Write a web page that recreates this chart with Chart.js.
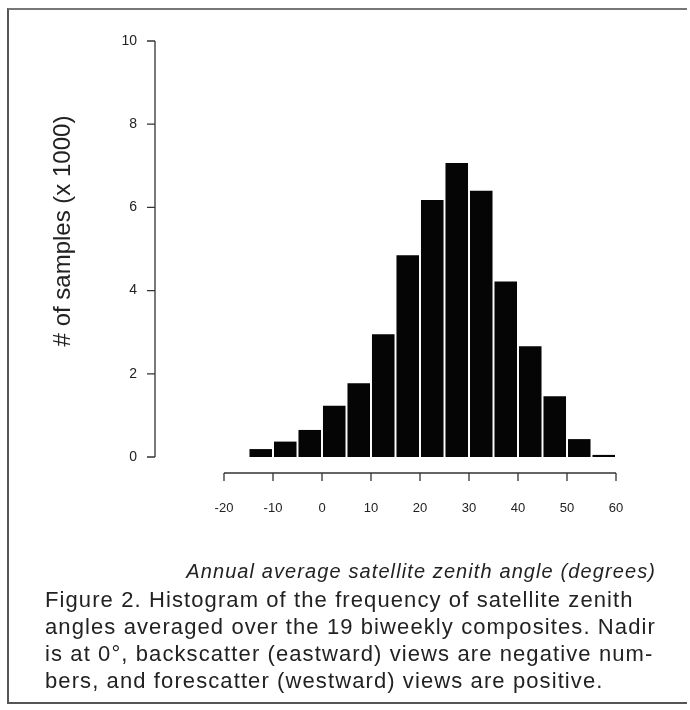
<!DOCTYPE html>
<html>
<head>
<meta charset="utf-8">
<script src="https://cdn.jsdelivr.net/npm/chart.js@4.4.1/dist/chart.umd.min.js"></script>
<style>
  body { margin: 0; background: #fff; }
  #page { position: relative; width: 690px; height: 710px; overflow: hidden; }
  #frame { position: absolute; left: 7px; top: 8px; width: 680px; height: 696px; box-sizing: border-box;
           border-left: 2px solid #555; border-top: 2px solid #777; border-bottom: 2px solid #555; }
  #chart { position: absolute; left: 0; top: 0; }
  #xtitle { position: absolute; right: 34px; top: 560px; font-family: "Liberation Sans", Arial, sans-serif;
            font-size: 20px; font-style: italic; letter-spacing: 1.1px; color: #222; white-space: pre; }
  #caption { position: absolute; left: 45px; top: 586px; font-family: "Liberation Sans", Arial, sans-serif;
             font-size: 22px; line-height: 27px; letter-spacing: 1.1px; color: #222; white-space: pre; }
</style>
</head>
<body>
<div id="page">
  <div id="frame"></div>
  <canvas id="chart" width="690" height="590"></canvas>
  <div id="xtitle">Annual average satellite zenith angle (degrees)</div>
  <div id="caption">Figure 2. Histogram of the frequency of satellite zenith
angles averaged over the 19 biweekly composites. Nadir
is at 0°, backscatter (eastward) views are negative num-
bers, and forescatter (westward) views are positive.</div>
</div>
<script>
// bin centres (5 degree bins) and counts in thousands
const binCenters = [-12.5, -7.5, -2.5, 2.5, 7.5, 12.5, 17.5, 22.5, 27.5, 32.5, 37.5, 42.5, 47.5, 52.5, 57.5];
const counts = [0.19, 0.37, 0.65, 1.23, 1.77, 2.95, 4.85, 6.18, 7.07, 6.40, 4.22, 2.66, 1.46, 0.43, 0.05];
const xTicks = [-20, -10, 0, 10, 20, 30, 40, 50, 60];
const yTicks = [0, 2, 4, 6, 8, 10];
const yTitle = '# of samples (x 1000)';

// R-style detached axes
const rAxes = {
  id: 'rAxes',
  afterDraw(chart) {
    const { ctx, chartArea, scales: { x, y } } = chart;
    const ax = chartArea.left, ab = chartArea.bottom;
    ctx.save();
    ctx.strokeStyle = '#333';
    ctx.lineWidth = 1.3;
    ctx.beginPath();
    ctx.moveTo(ax, y.getPixelForValue(yTicks[0]));
    ctx.lineTo(ax, y.getPixelForValue(yTicks[yTicks.length - 1]));
    yTicks.forEach(v => {
      const py = y.getPixelForValue(v);
      ctx.moveTo(ax, py);
      ctx.lineTo(ax - 8, py);
    });
    ctx.moveTo(x.getPixelForValue(xTicks[0]), ab);
    ctx.lineTo(x.getPixelForValue(xTicks[xTicks.length - 1]), ab);
    xTicks.forEach(v => {
      const px = x.getPixelForValue(v);
      ctx.moveTo(px, ab);
      ctx.lineTo(px, ab + 8);
    });
    ctx.stroke();

    ctx.translate(63, 231);
    ctx.rotate(-Math.PI / 2);
    ctx.fillStyle = '#222';
    ctx.font = '24px "Liberation Sans", Arial, sans-serif';
    ctx.textAlign = 'center';
    ctx.textBaseline = 'middle';
    ctx.fillText(yTitle, 0, 0);
    ctx.restore();
  }
};

new Chart(document.getElementById('chart'), {
  type: 'bar',
  data: {
    datasets: [{
      data: binCenters.map((c, i) => ({ x: c, y: counts[i] })),
      backgroundColor: '#050505',
      borderWidth: 0,
      barPercentage: 0.92,
      categoryPercentage: 1
    }]
  },
  options: {
    responsive: false,
    animation: false,
    layout: { padding: { top: 41, right: 74, left: 0, bottom: 0 } },
    plugins: { legend: { display: false }, tooltip: { enabled: false } },
    scales: {
      x: {
        type: 'linear',
        offset: false,
        min: -34.08,
        max: 60,
        grid: { display: false, drawTicks: false, offset: false },
        border: { display: false },
        afterBuildTicks: s => { s.ticks = xTicks.map(v => ({ value: v })); },
        afterFit: s => { s.height = 117; },
        ticks: { color: '#222', padding: 28, maxRotation: 0, autoSkip: false,
                 font: { family: '"Liberation Sans", Arial, sans-serif', size: 13 } }
      },
      y: {
        min: -0.385,
        max: 10,
        grid: { display: false, drawTicks: false },
        border: { display: false },
        afterBuildTicks: s => { s.ticks = yTicks.map(v => ({ value: v })); },
        afterFit: s => { s.width = 155; },
        ticks: { color: '#222', padding: 18,
                 font: { family: '"Liberation Sans", Arial, sans-serif', size: 14 } }
      }
    }
  },
  plugins: [rAxes]
});
</script>
</body>
</html>
